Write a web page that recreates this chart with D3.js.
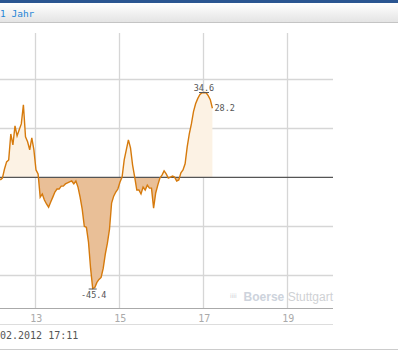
<!DOCTYPE html>
<html><head><meta charset="utf-8">
<script src="https://cdn.jsdelivr.net/npm/d3@7"></script>
<style>
html,body{margin:0;padding:0;background:#fff;overflow:hidden;}
svg{display:block;}
</style></head>
<body>
<svg id="chart" width="398" height="361"></svg>
<script>
// ---- data (intraday % performance, 3-minute samples starting 12:10) ----
const startTime = "12:10";
const stepMinutes = 3;
const values = [
 -1.1,-0.3,3.4,6.3,7.1,17.7,13.2,21.0,16.9,19.4,
 21.8,29.6,16.5,14.5,11.2,16.1,11.2,3.0,1.4,-8.1,
 -6.8,-9.3,-10.9,-12.2,-10.1,-8.1,-6.0,-4.8,-4.8,-3.6,
 -3.6,-2.7,-2.3,-1.9,-1.5,-2.7,-1.5,-4.0,-8.1,-13.0,
 -20.0,-20.4,-26.5,-37.2,-45.4,-45.0,-42.9,-41.7,-40.9,-37.2,
 -31.4,-26.9,-21.2,-10.5,-7.7,-6.0,-4.8,-1.9,0.1,7.1,
 11.2,15.3,12.0,5.0,0.1,-5.2,-5.2,-6.8,-4.0,-5.2,
 -3.2,-4.4,-4.4,-12.6,-6.4,-3.2,-0.3,0.9,2.6,1.4,
 -0.3,0.1,0.5,0.1,-1.5,-1.1,1.8,3.0,5.5,12.4,
 17.7,21.8,26.8,30.0,32.1,33.7,34.5,34.6,34.5,33.3,
 31.7,28.2
];
const xTicks = [13, 15, 17, 19];
const yGrid = [-40, -20, 0, 20, 40];
const periodLabel = "1 Jahr";
const dateLabel = "02.2012 17:11";
const watermarkA = "Boerse";
const watermarkB = " Stuttgart";

const [sh, sm] = startTime.split(":").map(Number);
const data = values.map((v, i) => ({ t: (sh * 60 + sm + i * stepMinutes) / 60, v }));

const svg = d3.select("#chart");
const W = 398;
const plotLeft = 0, plotRight = 333, plotTop = 33, plotBottom = 308;

const x = d3.scaleLinear().domain([13, 19]).range([35.3, 287.3]);
const y = d3.scaleLinear().domain([-40, 40]).range([275.3, 79.3]);

// ---- header toolbar ----
const defs = svg.append("defs");
const g1 = defs.append("linearGradient").attr("id", "tb").attr("x1", 0).attr("y1", 0).attr("x2", 0).attr("y2", 1);
g1.append("stop").attr("offset", "0%").attr("stop-color", "#ffffff");
g1.append("stop").attr("offset", "100%").attr("stop-color", "#e4e4e4");
svg.append("rect").attr("x", 0).attr("y", 0).attr("width", W).attr("height", 3).attr("fill", "#2a5591");
svg.append("rect").attr("x", 0).attr("y", 3).attr("width", W).attr("height", 19).attr("fill", "url(#tb)");
svg.append("rect").attr("x", 0).attr("y", 22).attr("width", W).attr("height", 1).attr("fill", "#c4c4c4");
svg.append("text").attr("x", 0).attr("y", 16.5)
  .attr("font-family", "DejaVu Sans Mono").attr("font-size", 9.5).attr("fill", "#1f86d6")
  .text(periodLabel);

// ---- grid ----
svg.append("g").selectAll("line").data(xTicks).join("line")
  .attr("x1", d => Math.round(x(d)) + 0.5).attr("x2", d => Math.round(x(d)) + 0.5)
  .attr("y1", plotTop).attr("y2", plotBottom)
  .attr("stroke", "#d6d6d6").attr("stroke-width", 1.3);
svg.append("g").selectAll("line").data(yGrid.filter(d => d !== 0)).join("line")
  .attr("x1", plotLeft).attr("x2", plotRight)
  .attr("y1", d => Math.round(y(d)) + 0.5).attr("y2", d => Math.round(y(d)) + 0.5)
  .attr("stroke", "#d6d6d6").attr("stroke-width", 1.3);

// ---- areas ----
const y0 = y(0);
defs.append("clipPath").attr("id", "above").append("rect")
  .attr("x", 0).attr("y", 0).attr("width", W).attr("height", y0);
defs.append("clipPath").attr("id", "below").append("rect")
  .attr("x", 0).attr("y", y0).attr("width", W).attr("height", 361 - y0);

const area = d3.area().x(d => x(d.t)).y0(y0).y1(d => y(d.v)).curve(d3.curveLinear);
svg.append("path").datum(data).attr("d", area).attr("fill", "#fcf2e4").attr("clip-path", "url(#above)");
svg.append("path").datum(data).attr("d", area).attr("fill", "#e9bf97").attr("clip-path", "url(#below)");

// zero line
svg.append("line").attr("x1", plotLeft).attr("x2", plotRight)
  .attr("y1", y0).attr("y2", y0).attr("stroke", "#555").attr("stroke-width", 1.3);

// ---- line ----
const line = d3.line().x(d => x(d.t)).y(d => y(d.v)).curve(d3.curveLinear);
svg.append("path").datum(data).attr("d", line)
  .attr("fill", "none").attr("stroke", "#d67a0c").attr("stroke-width", 1.4)
  .attr("stroke-linejoin", "miter");

// ---- annotations ----
const maxD = data.reduce((a, b) => (b.v > a.v ? b : a));
const minD = data.reduce((a, b) => (b.v < a.v ? b : a));
const lastD = data[data.length - 1];
const ann = svg.append("g").attr("font-family", "DejaVu Sans Mono").attr("font-size", 8.5).attr("fill", "#555");
ann.append("line").attr("x1", x(maxD.t) - 5).attr("x2", x(maxD.t) + 5)
  .attr("y1", y(maxD.v)).attr("y2", y(maxD.v)).attr("stroke", "#555").attr("stroke-width", 1);
ann.append("text").attr("x", x(maxD.t)).attr("y", y(maxD.v) - 2).attr("text-anchor", "middle").text(maxD.v.toFixed(1));
ann.append("line").attr("x1", x(minD.t) - 4).attr("x2", x(minD.t) + 4)
  .attr("y1", y(minD.v) + 0.5).attr("y2", y(minD.v) + 0.5).attr("stroke", "#555").attr("stroke-width", 1);
ann.append("text").attr("x", x(minD.t) + 1).attr("y", y(minD.v) + 9.5).attr("text-anchor", "middle").text(minD.v.toFixed(1));
ann.append("text").attr("x", x(lastD.t) + 2).attr("y", y(lastD.v) + 2.5).text(lastD.v.toFixed(1));

// ---- watermark ----
const wm = svg.append("g");
wm.append("text").attr("x", 230).attr("y", 298).attr("font-family", "DejaVu Sans").attr("font-size", 6)
  .attr("fill", "#c8ccd2").text("iiii");
const wt = wm.append("text").attr("x", 333).attr("y", 301).attr("text-anchor", "end")
  .attr("font-family", "Liberation Sans").attr("font-size", 12).attr("fill", "#cfd1d4");
wt.append("tspan").attr("font-weight", "bold").attr("fill", "#cdd3dc").text(watermarkA);
wt.append("tspan").text(watermarkB);

// ---- x axis ----
svg.append("line").attr("x1", plotLeft).attr("x2", plotRight).attr("y1", 308.5).attr("y2", 308.5)
  .attr("stroke", "#aaa").attr("stroke-width", 1);
svg.append("g").selectAll("text").data(xTicks).join("text")
  .attr("x", d => x(d) + 1).attr("y", 321.5).attr("text-anchor", "middle")
  .attr("font-family", "DejaVu Sans Mono").attr("font-size", 10).attr("fill", "#aaa")
  .text(d => d);
svg.append("line").attr("x1", plotLeft).attr("x2", plotRight).attr("y1", 324.5).attr("y2", 324.5)
  .attr("stroke", "#ddd").attr("stroke-width", 1);
svg.append("text").attr("x", 0).attr("y", 338.5)
  .attr("font-family", "DejaVu Sans Mono").attr("font-size", 10).attr("fill", "#555")
  .text(dateLabel);
svg.append("line").attr("x1", 0).attr("x2", W).attr("y1", 349.5).attr("y2", 349.5)
  .attr("stroke", "#ccc").attr("stroke-width", 1);
</script>
</body></html>
